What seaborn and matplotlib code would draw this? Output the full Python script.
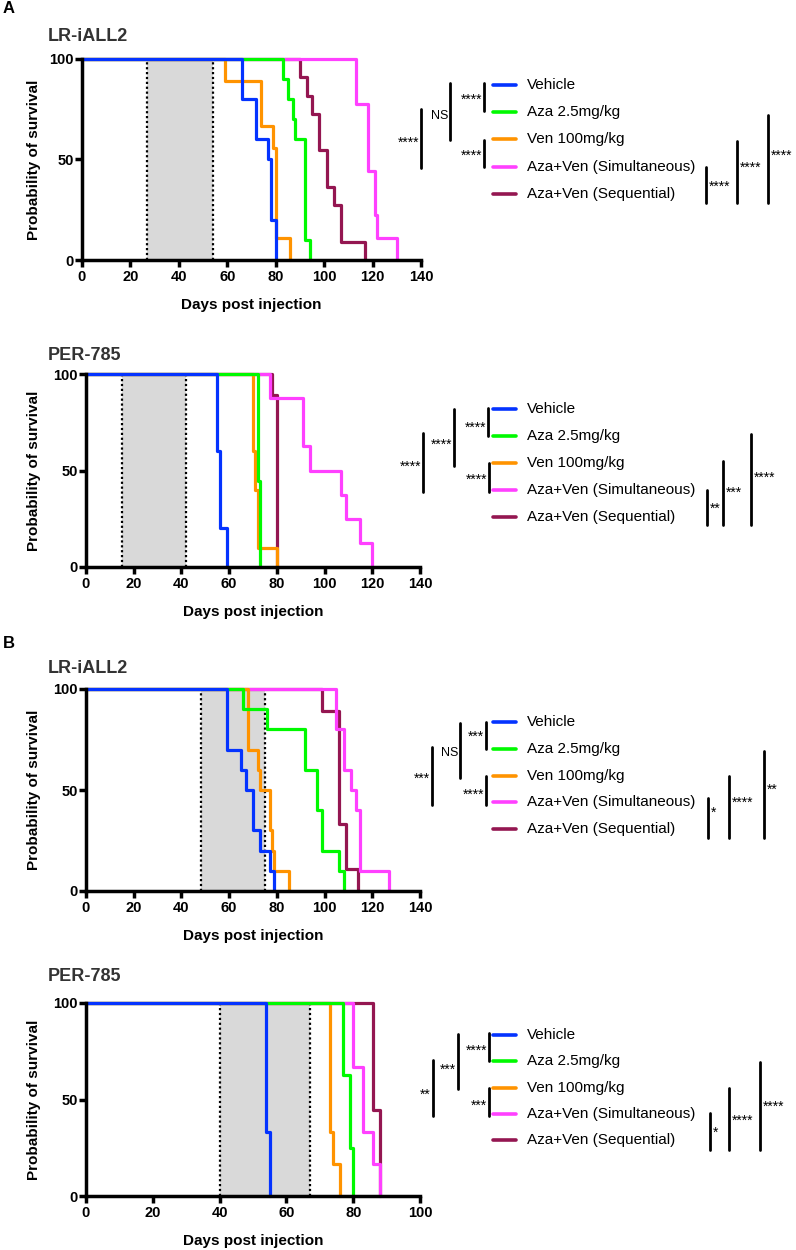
import numpy as np
import pandas as pd
import matplotlib.pyplot as plt
from matplotlib.lines import Line2D
import seaborn as sns

sns.set_style("ticks", rc={"axes.edgecolor": "black", "xtick.color": "black",
                           "ytick.color": "black", "text.color": "black",
                           "axes.labelcolor": "black"})
plt.rcParams['font.family'] = ['Liberation Sans', 'DejaVu Sans']

W, H = 796, 1250

groups = ["Vehicle", "Aza 2.5mg/kg", "Ven 100mg/kg",
          "Aza+Ven (Simultaneous)", "Aza+Ven (Sequential)"]
palette = {"Vehicle": "#0433ff", "Aza 2.5mg/kg": "#00f900",
           "Ven 100mg/kg": "#ff9300", "Aza+Ven (Simultaneous)": "#ff40ff",
           "Aza+Ven (Sequential)": "#941651"}

# Kaplan-Meier step points (day, % survival)
a_lr_days = {"Vehicle": [0, 66, 72, 77, 78, 80],
             "Aza 2.5mg/kg": [0, 83, 85, 87, 88, 92, 94],
             "Ven 100mg/kg": [0, 59, 74, 79, 80, 86],
             "Aza+Ven (Simultaneous)": [0, 113, 118, 121, 122, 130],
             "Aza+Ven (Sequential)": [0, 90, 93, 95, 98, 101, 104, 107, 117]}
a_lr_surv = {"Vehicle": [100, 80, 60, 50, 20, 0],
             "Aza 2.5mg/kg": [100, 90, 80, 70, 60, 10, 0],
             "Ven 100mg/kg": [100, 88.9, 66.7, 55.6, 11.1, 0],
             "Aza+Ven (Simultaneous)": [100, 77.8, 44.4, 22.2, 11.1, 0],
             "Aza+Ven (Sequential)": [100, 90.9, 81.8, 72.7, 54.5, 36.4, 27.3, 9.1, 0]}

a_per_days = {"Vehicle": [0, 55, 56, 59],
              "Aza 2.5mg/kg": [0, 72, 73],
              "Ven 100mg/kg": [0, 70, 71, 72, 80],
              "Aza+Ven (Simultaneous)": [0, 77, 91, 94, 107, 109, 115, 120],
              "Aza+Ven (Sequential)": [0, 78, 80]}
a_per_surv = {"Vehicle": [100, 60, 20, 0],
              "Aza 2.5mg/kg": [100, 44.4, 0],
              "Ven 100mg/kg": [100, 60, 40, 10, 0],
              "Aza+Ven (Simultaneous)": [100, 87.5, 62.5, 50, 37.5, 25, 12.5, 0],
              "Aza+Ven (Sequential)": [100, 88.9, 0]}

b_lr_days = {"Vehicle": [0, 59, 65, 67, 70, 73, 77, 79],
             "Aza 2.5mg/kg": [0, 66, 76, 92, 97, 99, 106, 108],
             "Ven 100mg/kg": [0, 68, 72, 73, 77, 78, 79, 85],
             "Aza+Ven (Simultaneous)": [0, 105, 108, 111, 113, 115, 127],
             "Aza+Ven (Sequential)": [0, 99, 106, 109, 114]}
b_lr_surv = {"Vehicle": [100, 70, 60, 50, 30, 20, 10, 0],
             "Aza 2.5mg/kg": [100, 90, 80, 60, 40, 20, 10, 0],
             "Ven 100mg/kg": [100, 70, 60, 50, 30, 20, 10, 0],
             "Aza+Ven (Simultaneous)": [100, 80, 60, 50, 40, 10, 0],
             "Aza+Ven (Sequential)": [100, 88.9, 33.3, 11.1, 0]}

b_per_days = {"Vehicle": [0, 54, 55],
              "Aza 2.5mg/kg": [0, 77, 79, 80],
              "Ven 100mg/kg": [0, 73, 74, 76],
              "Aza+Ven (Simultaneous)": [0, 80, 83, 86, 88],
              "Aza+Ven (Sequential)": [0, 86, 88]}
b_per_surv = {"Vehicle": [100, 33.3, 0],
              "Aza 2.5mg/kg": [100, 62.5, 25, 0],
              "Ven 100mg/kg": [100, 33.3, 16.7, 0],
              "Aza+Ven (Simultaneous)": [100, 66.7, 33.3, 16.7, 0],
              "Aza+Ven (Sequential)": [100, 44.4, 0]}

# treatment windows (days)
a_lr_window = (27, 54)
a_per_window = (15, 42)
b_lr_window = (48, 75)
b_per_window = (40, 67)

# significance labels: left side (Veh-Aza, middle bracket, Ven-Sim, outer), right side (3)
a_lr_sig = ["****", "NS", "****", "****", "****", "****", "****"]
a_per_sig = ["****", "****", "****", "****", "**", "***", "****"]
b_lr_sig = ["***", "NS", "****", "***", "*", "****", "**"]
b_per_sig = ["****", "***", "***", "**", "*", "****", "****"]


def to_df(days, surv):
    rows = []
    for g in groups:
        for d, s in zip(days[g], surv[g]):
            rows.append((g, d, s))
    return pd.DataFrame(rows, columns=["group", "day", "surv"])


fig = plt.figure(figsize=(W / 100, H / 100), dpi=100)
# pixel-space overlay for titles, legends and brackets (kept on top)
ov = fig.add_axes([0, 0, 1, 1])
ov.set_xlim(0, W)
ov.set_ylim(H, 0)
ov.axis('off')
ov.set_zorder(10)

# layout in pixels: axes box, title y, legend first row y, row step,
# bracket (x, top, bottom, text y)
panels = [
    dict(days=a_lr_days, surv=a_lr_surv, win=a_lr_window, sig=a_lr_sig, title="LR-iALL2",
         box=(82, 59, 421, 260), xmax=140, ty=28, r0=85, dr=27.2,
         br=[(484, 83, 111, 97), (450, 83, 140, 116), (484, 140, 167, 153), (421, 109, 168, 140),
             (706, 167, 203, 184), (737, 141, 203, 165), (768, 115, 203, 153)]),
    dict(days=a_per_days, surv=a_per_surv, win=a_per_window, sig=a_per_sig, title="PER-785",
         box=(86, 374, 420, 567), xmax=140, ty=347, r0=409, dr=27,
         br=[(488, 408, 436, 425), (454, 409, 466, 442), (489, 463, 492, 477), (423, 433, 492, 464),
             (707, 490, 525, 506), (723, 461, 525, 490), (751, 434, 525, 475)]),
    dict(days=b_lr_days, surv=b_lr_surv, win=b_lr_window, sig=b_lr_sig, title="LR-iALL2",
         box=(86, 689, 420, 891), xmax=140, ty=660, r0=722, dr=26.8,
         br=[(486, 722, 749, 734), (460, 723, 778, 753), (486, 776, 805, 792), (432, 747, 805, 776),
             (708, 798, 838, 810), (729, 776, 838, 800), (764, 751, 838, 787)]),
    dict(days=b_per_days, surv=b_per_surv, win=b_per_window, sig=b_per_sig, title="PER-785",
         box=(86, 1003, 420, 1196), xmax=100, ty=968, r0=1035, dr=26.3,
         br=[(489, 1033, 1061, 1048), (458, 1034, 1089, 1067), (489, 1088, 1116, 1103), (433, 1060, 1116, 1092),
             (710, 1113, 1150, 1130), (729, 1088, 1150, 1118), (760, 1062, 1150, 1104)]),
]

for p in panels:
    x0, y0, x1, y1 = p["box"]
    ax = fig.add_axes([x0 / W, 1 - y1 / H, (x1 - x0) / W, (y1 - y0) / H])
    lo, hi = p["win"]
    ax.fill_betweenx([0, 100], lo, hi, color="#d9d9d9", lw=0, zorder=0)
    ax.vlines([lo, hi], 0, 100, colors="black", linestyles=(0, (1, 1.2)), lw=1.6, zorder=1)
    df = to_df(p["days"], p["surv"])
    # reversed hue order so Vehicle ends up on top, like the original
    sns.lineplot(data=df, x="day", y="surv", hue="group", hue_order=groups[::-1],
                 palette=palette, estimator=None, sort=False, drawstyle="steps-post",
                 lw=2.3, legend=False, ax=ax, clip_on=False, zorder=3)
    ax.set_xlim(0, p["xmax"])
    ax.set_ylim(0, 100)
    ax.set_xticks(np.arange(0, p["xmax"] + 1, 20))
    ax.set_yticks([0, 50, 100])
    sns.despine(ax=ax)
    for s in ["left", "bottom"]:
        ax.spines[s].set_linewidth(2.5)
        ax.spines[s].set_zorder(4)
    ax.tick_params(width=2.5, length=5, labelsize=10.5)
    ax.tick_params(axis="y", pad=1)
    ax.tick_params(axis="x", pad=2)
    for lab in ax.get_xticklabels() + ax.get_yticklabels():
        lab.set_fontweight("bold")
    ax.set_xlabel("Days post injection", fontsize=11, fontweight="bold")
    ax.set_ylabel("Probability of survival", fontsize=11, fontweight="bold")
    ax.xaxis.set_label_coords(0.5, -(38 / (y1 - y0)))
    ax.yaxis.set_label_coords(-(x0 - 41) / (x1 - x0), 0.5)

    ov.text(48, p["ty"], p["title"], fontsize=13, fontweight="bold", color="#333333",
            ha="left", va="top")

    # legend
    for i, g in enumerate(groups):
        yy = p["r0"] + i * p["dr"]
        ov.add_line(Line2D([493, 516], [yy, yy], color=palette[g], lw=2.6, solid_capstyle="round"))
        ov.text(527, yy, g, fontsize=11, ha="left", va="center")

    # significance brackets
    for k, (bx, ya, yb, ty) in enumerate(p["br"]):
        ov.add_line(Line2D([bx, bx], [ya, yb], color="black", lw=2))
        lab = p["sig"][k]
        fs = 9 if lab == "NS" else 10
        dy = 0 if lab == "NS" else 3
        if k < 4:
            ov.text(bx - 2, ty + dy, lab, fontsize=fs, ha="right", va="center")
        else:
            ov.text(bx + 3, ty + dy, lab, fontsize=fs, ha="left", va="center")

ov.text(3, 1, "A", fontsize=12, fontweight="bold", ha="left", va="top")
ov.text(3, 636, "B", fontsize=12, fontweight="bold", ha="left", va="top")

fig.savefig("out.png", dpi=100)
